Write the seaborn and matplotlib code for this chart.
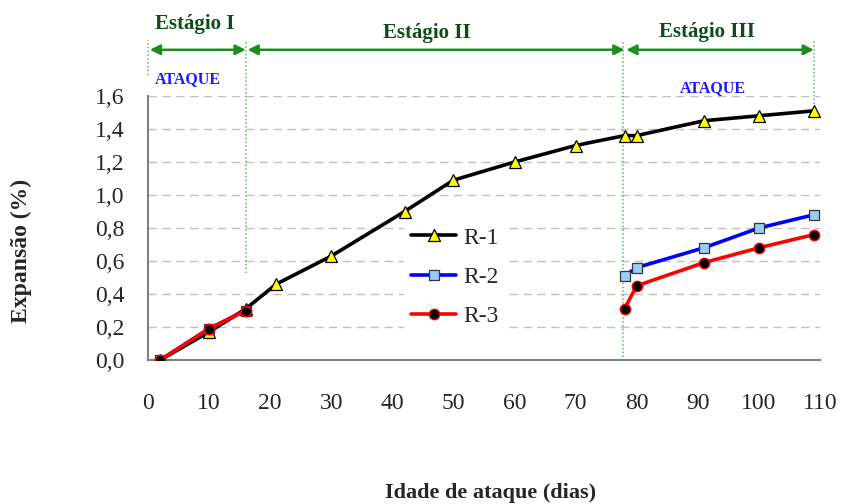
import numpy as np
import pandas as pd
import matplotlib
matplotlib.use("Agg")
import matplotlib.pyplot as plt
from matplotlib.lines import Line2D
import seaborn as sns

# ---- data ----
r1_x = [2, 10, 16, 21, 30, 42, 50, 60, 70, 78, 80, 91, 100, 109]
r1_y = [0.0, 0.17, 0.31, 0.46, 0.63, 0.90, 1.09, 1.20, 1.30, 1.36, 1.36, 1.45, 1.48, 1.51]
r2_x = [2, 10, 16, 78, 80, 91, 100, 109]
r2_y = [0.0, 0.19, 0.30, 0.51, 0.56, 0.68, 0.80, 0.88]
r2_seg = [0, 0, 0, 1, 1, 1, 1, 1]
r3_x = [2, 10, 16, 78, 80, 91, 100, 109]
r3_y = [0.0, 0.19, 0.30, 0.31, 0.45, 0.59, 0.68, 0.76]
r3_seg = [0, 0, 0, 1, 1, 1, 1, 1]
x_ticks = [0, 10, 20, 30, 40, 50, 60, 70, 80, 90, 100, 110]
y_ticks = [0.0, 0.2, 0.4, 0.6, 0.8, 1.0, 1.2, 1.4, 1.6]
stage_labels = ["Estágio I", "Estágio II", "Estágio III"]
stage_bounds = [(0, 16), (16, 78), (78, 109)]

sns.set_theme(style="white")
plt.rcParams['font.family'] = ['Liberation Serif', 'DejaVu Serif']

fig = plt.figure(figsize=(8.42, 5.04), dpi=100)
ax = fig.add_axes([148/842, 1-360/504, (820-148)/842, (360-96)/504])

df1 = pd.DataFrame({"x": r1_x, "y": r1_y})
df2 = pd.DataFrame({"x": r2_x, "y": r2_y, "seg": r2_seg})
df3 = pd.DataFrame({"x": r3_x, "y": r3_y, "seg": r3_seg})

sns.lineplot(data=df1, x="x", y="y", ax=ax, color="black", lw=2.6,
             marker="^", markersize=8.5, markerfacecolor="#ffff00",
             markeredgecolor="black", markeredgewidth=0.9, zorder=3,
             sort=False, estimator=None)
sns.lineplot(data=df2, x="x", y="y", units="seg", estimator=None, ax=ax,
             color="#0000ff", lw=2.6, marker="s", markersize=7.5,
             markerfacecolor="#99ccff", markeredgecolor="#333333",
             markeredgewidth=0.9, zorder=4, sort=False)
sns.lineplot(data=df3, x="x", y="y", units="seg", estimator=None, ax=ax,
             color="#ff0000", lw=2.6, marker="o", markersize=7.5,
             markerfacecolor="black", markeredgecolor="#ff0000",
             markeredgewidth=1.0, zorder=5, sort=False)

ax.set_xlim(0, 110)
ax.set_ylim(0, 1.6)
ax.set_xticks(x_ticks)
ax.set_xticklabels([str(t) for t in x_ticks], fontsize=17)
ax.set_yticks(y_ticks)
ax.set_yticklabels([f"{t:.1f}".replace(".", ",") for t in y_ticks], fontsize=17)
ax.tick_params(axis="x", direction="out", length=8, width=1, color="#808080", pad=16)
ax.tick_params(axis="y", direction="out", length=10, width=1, color="#808080", pad=7)
for s in ["top", "right"]:
    ax.spines[s].set_visible(False)
for s in ["left", "bottom"]:
    ax.spines[s].set_color("#808080")
    ax.spines[s].set_linewidth(1.5)
ax.yaxis.grid(True, linestyle=(0, (6, 4)), color="#c0c0c0", lw=1)
ax.xaxis.grid(False)
ax.set_axisbelow(True)

ax.set_xlabel("Idade de ataque (dias)", fontsize=16, fontweight="bold")
ax.set_ylabel("Expansão (%)", fontsize=17, fontweight="bold")
ax.xaxis.set_label_coords(0.51, -0.465)
ax.yaxis.set_label_coords(-0.172, 0.415)

# stage annotations
green = "#1e8c1e"
dark_green = "#0e4d1a"
dot_kw = dict(color="#5cb85c", lw=1.1, linestyle=(0, (1, 1.5)), clip_on=False, zorder=2)
ax.plot([0, 0], [1.73, 1.94], **dot_kw)
ax.plot([16, 16], [0.53, 1.94], **dot_kw)
ax.plot([77.8, 77.8], [0.02, 1.94], **dot_kw)
ax.plot([109, 109], [1.55, 1.94], **dot_kw)
arrow_y = 1.88
for (a, b) in stage_bounds:
    ax.annotate("", xy=(b, arrow_y), xytext=(a + 0.3, arrow_y), xycoords="data",
                annotation_clip=False,
                arrowprops=dict(arrowstyle="<|-|>", color=green, lw=1.8,
                                mutation_scale=15, shrinkA=0, shrinkB=0))
ax.text(7.6, 2.035, stage_labels[0], ha="center", va="center", fontsize=15,
        fontweight="bold", color=dark_green)
ax.text(45.6, 1.98, stage_labels[1], ha="center", va="center", fontsize=15,
        fontweight="bold", color=dark_green)
ax.text(91.5, 1.985, stage_labels[2], ha="center", va="center", fontsize=15,
        fontweight="bold", color=dark_green)
ax.text(6.6, 1.7, "ATAQUE", ha="center", va="center", fontsize=11.5,
        fontweight="bold", color="#1a1aff")
ax.text(92.5, 1.65, "ATAQUE", ha="center", va="center", fontsize=11.5,
        fontweight="bold", color="#1a1aff")

# legend
handles = [
    Line2D([], [], color="black", lw=2.6, marker="^", markersize=8.5,
           markerfacecolor="#ffff00", markeredgecolor="black", markeredgewidth=0.9),
    Line2D([], [], color="#0000ff", lw=2.6, marker="s", markersize=7.5,
           markerfacecolor="#99ccff", markeredgecolor="#333333", markeredgewidth=0.9),
    Line2D([], [], color="#ff0000", lw=2.6, marker="o", markersize=7.5,
           markerfacecolor="black", markeredgecolor="#ff0000", markeredgewidth=1.0),
]
leg = ax.legend(handles, ["R-1", "R-2", "R-3"], loc="center",
                bbox_to_anchor=((455-148)/672, (360-277)/264), fontsize=17,
                frameon=True, facecolor="white", edgecolor="none", framealpha=1,
                handlelength=1.9, handletextpad=0.3, labelspacing=0.75,
                borderpad=0.3)
leg.set_zorder(6)

fig.savefig("out.png", dpi=100)
